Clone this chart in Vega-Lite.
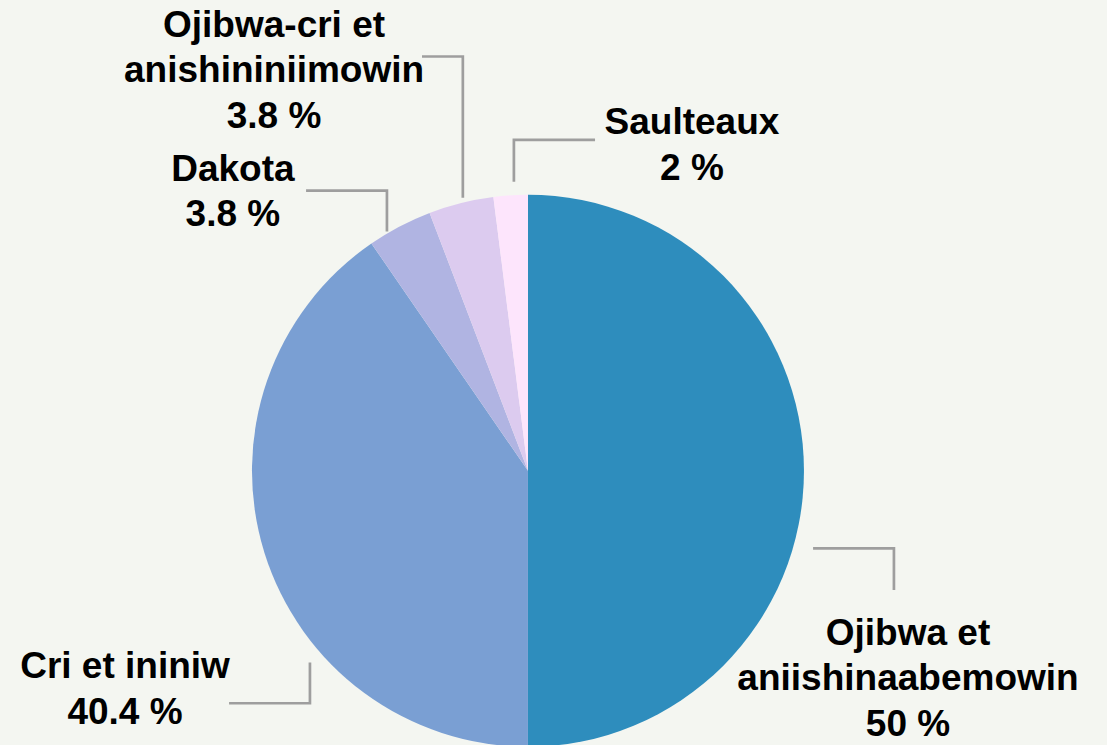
{
  "$schema": "https://vega.github.io/schema/vega-lite/v6.json",
  "width": 1107,
  "height": 745,
  "padding": 0,
  "autosize": {"type": "fit", "contains": "padding"},
  "background": "#f4f6f1",
  "config": {"view": {"stroke": null}},
  "datasets": {
    "parts": [
      {"langue": "Ojibwa et aniishinaabemowin", "label": "Ojibwa et\naniishinaabemowin\n50 %", "share": 50.0, "idx": 1, "lx": 1.377, "ly": -0.634},
      {"langue": "Cri et ininiw", "label": "Cri et ininiw\n40.4 %", "share": 40.4, "idx": 2, "lx": -1.46, "ly": -0.757},
      {"langue": "Dakota", "label": "Dakota\n3.8 %", "share": 3.8, "idx": 3, "lx": -1.069, "ly": 1.058},
      {"langue": "Ojibwa-cri et anishininiimowin", "label": "Ojibwa-cri et\nanishininiimowin\n3.8 %", "share": 3.8, "idx": 4, "lx": -0.92, "ly": 1.583},
      {"langue": "Saulteaux", "label": "Saulteaux\n2 %", "share": 2.0, "idx": 5, "lx": 0.594, "ly": 1.228}
    ],
    "leaders": [
      {"langue": "Ojibwa et aniishinaabemowin", "pt": 1, "x": 1.033, "y": -0.283},
      {"langue": "Ojibwa et aniishinaabemowin", "pt": 2, "x": 1.326, "y": -0.283},
      {"langue": "Ojibwa et aniishinaabemowin", "pt": 3, "x": 1.326, "y": -0.435},
      {"langue": "Cri et ininiw", "pt": 1, "x": -0.79, "y": -0.699},
      {"langue": "Cri et ininiw", "pt": 2, "x": -0.79, "y": -0.848},
      {"langue": "Cri et ininiw", "pt": 3, "x": -1.083, "y": -0.848},
      {"langue": "Dakota", "pt": 1, "x": -0.511, "y": 0.873},
      {"langue": "Dakota", "pt": 2, "x": -0.511, "y": 1.022},
      {"langue": "Dakota", "pt": 3, "x": -0.804, "y": 1.022},
      {"langue": "Ojibwa-cri et anishininiimowin", "pt": 1, "x": -0.236, "y": 0.996},
      {"langue": "Ojibwa-cri et anishininiimowin", "pt": 2, "x": -0.236, "y": 1.511},
      {"langue": "Ojibwa-cri et anishininiimowin", "pt": 3, "x": -0.384, "y": 1.511},
      {"langue": "Saulteaux", "pt": 1, "x": -0.051, "y": 1.054},
      {"langue": "Saulteaux", "pt": 2, "x": -0.051, "y": 1.207},
      {"langue": "Saulteaux", "pt": 3, "x": 0.243, "y": 1.207}
    ]
  },
  "layer": [
    {
      "data": {"name": "parts"},
      "mark": {"type": "arc", "radius": 276, "stroke": null},
      "encoding": {
        "x": {"datum": 0, "type": "quantitative", "scale": {"domain": [-1.913, 2.098], "zero": false, "nice": false}, "axis": null},
        "y": {"datum": 0, "type": "quantitative", "scale": {"domain": [-0.982, 1.717], "zero": false, "nice": false}, "axis": null},
        "theta": {"field": "share", "type": "quantitative", "stack": true},
        "order": {"field": "idx", "type": "quantitative"},
        "color": {
          "field": "langue",
          "type": "nominal",
          "legend": null,
          "scale": {
            "domain": ["Ojibwa et aniishinaabemowin", "Cri et ininiw", "Dakota", "Ojibwa-cri et anishininiimowin", "Saulteaux"],
            "range": ["#2e8dbd", "#7a9fd3", "#b0b4e2", "#dccbef", "#fde5fc"]
          }
        }
      }
    },
    {
      "data": {"name": "leaders"},
      "mark": {"type": "line", "stroke": "#9e9e9e", "strokeWidth": 2.7, "strokeCap": "butt", "strokeJoin": "miter"},
      "encoding": {
        "x": {"field": "x", "type": "quantitative", "scale": {"domain": [-1.913, 2.098], "zero": false, "nice": false}, "axis": null},
        "y": {"field": "y", "type": "quantitative", "scale": {"domain": [-0.982, 1.717], "zero": false, "nice": false}, "axis": null},
        "detail": {"field": "langue", "type": "nominal"},
        "order": {"field": "pt", "type": "quantitative"}
      }
    },
    {
      "data": {"name": "parts"},
      "mark": {"type": "text", "font": "Liberation Sans", "fontWeight": "bold", "fontSize": 37, "lineHeight": 45.5, "lineBreak": "\n", "align": "center", "baseline": "alphabetic", "color": "#000000"},
      "encoding": {
        "x": {"field": "lx", "type": "quantitative", "scale": {"domain": [-1.913, 2.098], "zero": false, "nice": false}, "axis": null},
        "y": {"field": "ly", "type": "quantitative", "scale": {"domain": [-0.982, 1.717], "zero": false, "nice": false}, "axis": null},
        "text": {"field": "label", "type": "nominal"}
      }
    }
  ]
}
